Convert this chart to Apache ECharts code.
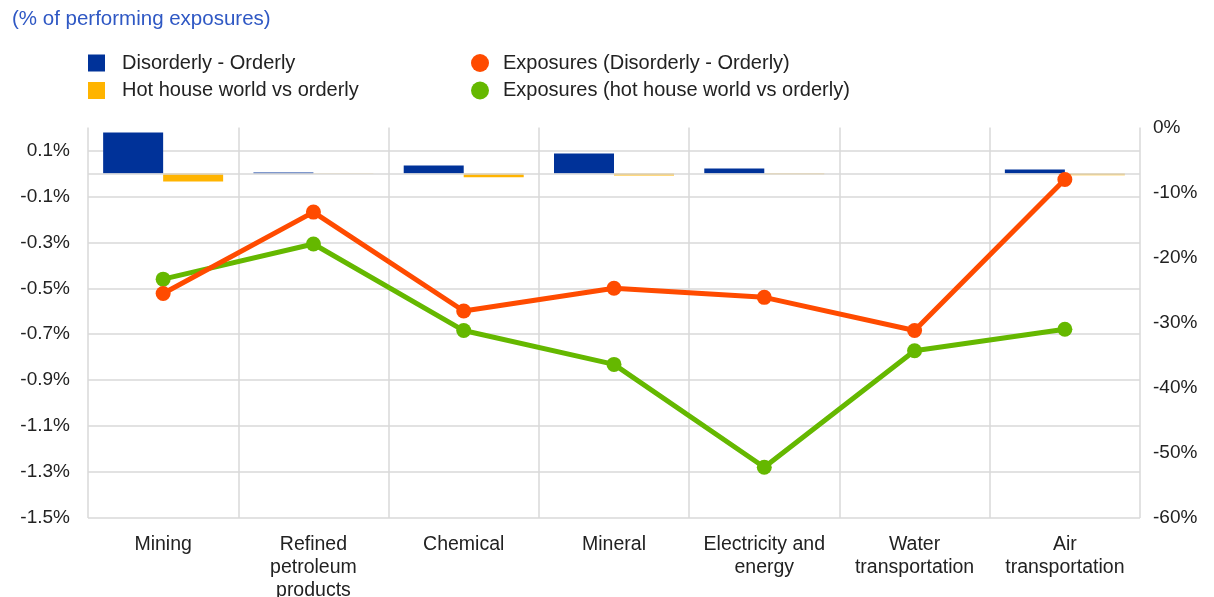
<!DOCTYPE html>
<html><head><meta charset="utf-8">
<script src="https://cdn.jsdelivr.net/npm/echarts@6/dist/echarts.min.js"></script>
<style>html,body{margin:0;padding:0;background:#fff}#c{width:1214px;height:597px}</style>
</head><body><div id="c"></div>
<script>
const categories = ['Mining', 'Refined\npetroleum\nproducts', 'Chemical', 'Mineral', 'Electricity and\nenergy', 'Water\ntransportation', 'Air\ntransportation'];
const disorderlyOrderly = [0.178, 0.004, 0.035, 0.087, 0.022, 0.0, 0.017];
const hotHouseVsOrderly = [-0.035, -0.001, -0.017, -0.009, -0.003, 0.0, -0.008];
const exposuresDisorderly = [-25.5, -13.0, -28.2, -24.7, -26.1, -31.2, -8.0];
const exposuresHotHouse = [-23.3, -17.9, -31.2, -36.4, -52.2, -34.3, -31.0];
const zeroLine = [0.0];

const font = 'Liberation Sans, Arial, sans-serif';
const grey = '#d9d9d9';
const chart = echarts.init(document.getElementById('c'));
chart.setOption({
  animation: false,
  textStyle: { fontFamily: font },
  title: { text: '(% of performing exposures)', left: 7, top: 4,
    textStyle: { fontFamily: font, fontSize: 20.5, fontWeight: 'normal', color: '#2f58c4' } },
  legend: [
    { data: ['Disorderly - Orderly', 'Hot house world vs orderly'], orient: 'vertical', left: 83, top: 48,
      itemWidth: 17, itemHeight: 17, itemGap: 7.5, icon: 'rect',
      textStyle: { fontFamily: font, fontSize: 20, lineHeight: 19, color: '#222', padding: [0, 0, 0, 12] } },
    { data: ['Exposures (Disorderly - Orderly)', 'Exposures (hot house world vs orderly)'], orient: 'vertical', left: 466, top: 48,
      itemWidth: 18, itemHeight: 18, itemGap: 7.5, icon: 'circle',
      textStyle: { fontFamily: font, fontSize: 20, lineHeight: 19, color: '#222', padding: [0, 0, 0, 9] } }
  ],
  grid: { left: 88, right: 74, top: 127.5, bottom: 79, outerBoundsMode: 'none', containLabel: false },
  xAxis: {
    type: 'category', data: categories, boundaryGap: true,
    axisLine: { show: false }, axisTick: { show: false },
    axisLabel: { fontFamily: font, fontSize: 19.5, color: '#222', margin: 15, lineHeight: 23, interval: 0, verticalAlign: 'top' },
    splitLine: { show: true, interval: 0, lineStyle: { color: grey, width: 1.5 } }
  },
  yAxis: [
    { type: 'value', min: -1.5, max: 0.2, interval: 0.2,
      axisLine: { show: false }, axisTick: { show: false },
      splitLine: { show: true, lineStyle: { width: 1.5,
        color: [grey, grey, grey, grey, grey, grey, grey, grey, grey, 'rgba(0,0,0,0)'] } },
      axisLabel: { fontFamily: font, fontSize: 19, color: '#222', margin: 18,
        formatter: v => (Math.abs(v - 0.2) < 1e-6 ? '' : v.toFixed(1) + '%') } },
    { type: 'value', min: -60, max: 0, interval: 10,
      axisLine: { show: false }, axisTick: { show: false }, splitLine: { show: false },
      axisLabel: { fontFamily: font, fontSize: 19, color: '#222', margin: 13, formatter: v => v + '%' } }
  ],
  series: [
    { name: 'zero', type: 'line', yAxisIndex: 0, data: [], z: 0, silent: true,
      markLine: { silent: true, symbol: 'none', label: { show: false }, animation: false,
        lineStyle: { color: grey, width: 1.5, type: 'solid' },
        data: zeroLine.map(v => ({ yAxis: v })) } },
    { name: 'Disorderly - Orderly', type: 'bar', yAxisIndex: 0, data: disorderlyOrderly, z: 2,
      barWidth: 60, barGap: '0%', itemStyle: { color: '#003299' } },
    { name: 'Hot house world vs orderly', type: 'bar', yAxisIndex: 0, data: hotHouseVsOrderly, z: 2,
      barWidth: 60, barGap: '0%', itemStyle: { color: '#ffb400' } },
    { name: 'Exposures (Disorderly - Orderly)', type: 'line', yAxisIndex: 1, data: exposuresDisorderly,
      symbol: 'circle', symbolSize: 15, lineStyle: { width: 5, color: '#ff4b00' }, itemStyle: { color: '#ff4b00' }, z: 5 },
    { name: 'Exposures (hot house world vs orderly)', type: 'line', yAxisIndex: 1, data: exposuresHotHouse,
      symbol: 'circle', symbolSize: 15, lineStyle: { width: 5, color: '#65b800' }, itemStyle: { color: '#65b800' }, z: 4 }
  ]
});
</script></body></html>
